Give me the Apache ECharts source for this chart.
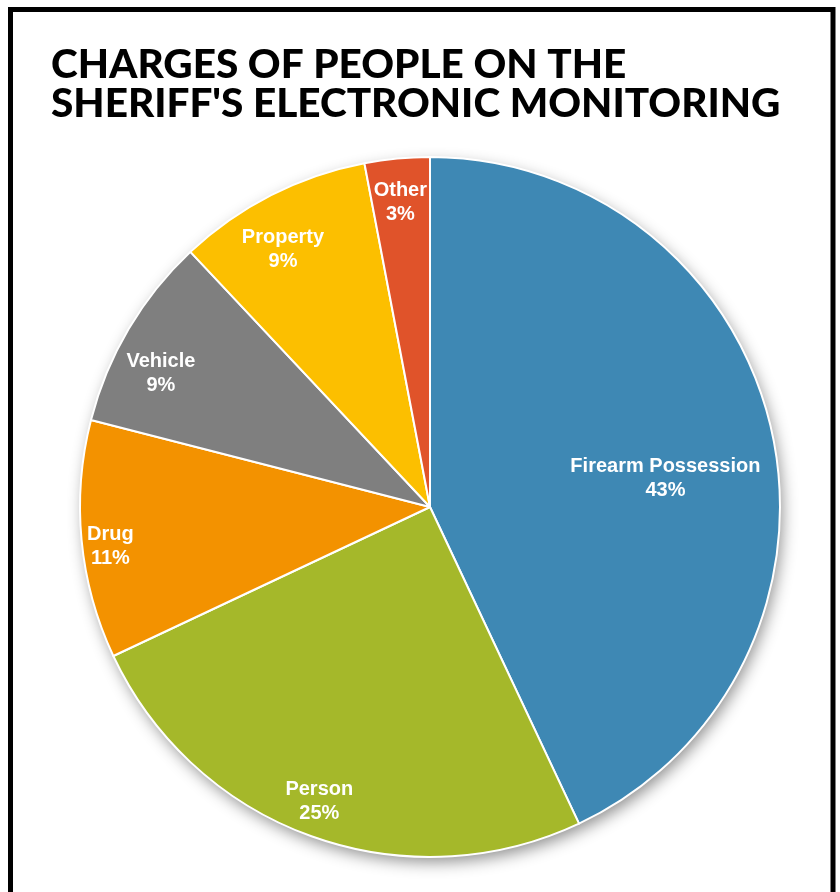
<!DOCTYPE html>
<html>
<head>
<meta charset="utf-8">
<script src="https://cdn.jsdelivr.net/npm/echarts@6/dist/echarts.min.js"></script>
<style>
  html, body { margin: 0; padding: 0; background: #ffffff; }
  #chart { width: 840px; height: 892px; }
</style>
</head>
<body>
<div id="chart"></div>
<script>
// Chart content
const titleLines = ['CHARGES OF PEOPLE ON THE', "SHERIFF'S ELECTRONIC MONITORING"];
const categories = ['Firearm Possession', 'Person', 'Drug', 'Vehicle', 'Property', 'Other'];
const shares = [43, 25, 11, 9, 9, 3];
const sliceColors = ['#3e88b4', '#a5b82a', '#f39200', '#7f7f7f', '#fcbf00', '#e0532a'];

// Small per-label offsets (px) for best-fit label placement
const labelNudge = [[-72, 40], [-4, -2], [-6, 10], [2, 27], [-4, 23], [0, 9]];

const pieCenter = [430, 507];
const pieRadius = 350;

const sliceData = categories.map((name, i) => ({
  name: name,
  value: shares[i],
  itemStyle: { color: sliceColors[i] }
}));

const chart = echarts.init(document.getElementById('chart'), null, { renderer: 'canvas' });

chart.setOption({
  backgroundColor: '#ffffff',
  animation: false,
  title: {
    text: titleLines.join('\n'),
    left: 46,
    top: 40,
    textStyle: {
      fontFamily: 'Lato',
      fontWeight: 900,
      fontSize: 40.5,
      lineHeight: 39,
      color: '#000000'
    }
  },
  graphic: [{
    type: 'rect',
    shape: { x: 10.5, y: 9.5, width: 822.5, height: 900 },
    style: { fill: 'none', stroke: '#000000', lineWidth: 5 },
    silent: true,
    z: 100
  }],
  series: [
    {
      // soft drop shadow beneath the whole pie
      type: 'pie',
      silent: true,
      center: pieCenter,
      radius: [0, pieRadius - 1],
      label: { show: false },
      labelLine: { show: false },
      itemStyle: {
        color: '#ffffff',
        shadowBlur: 16,
        shadowOffsetX: 3,
        shadowOffsetY: 6,
        shadowColor: 'rgba(0,0,0,0.45)'
      },
      data: [{ name: '', value: 1 }],
      z: 1
    },
    {
      type: 'pie',
      silent: true,
      center: pieCenter,
      radius: [0, pieRadius],
      startAngle: 90,
      clockwise: true,
      label: { show: false },
      labelLine: { show: false },
      itemStyle: { borderColor: '#ffffff', borderWidth: 2 },
      data: sliceData,
      z: 2
    },
    {
      // label ring: transparent sectors carrying the inside labels
      type: 'pie',
      silent: true,
      center: pieCenter,
      radius: [274, pieRadius],
      startAngle: 90,
      clockwise: true,
      itemStyle: { color: 'rgba(0,0,0,0)' },
      label: {
        show: true,
        position: 'inside',
        formatter: p => p.name + '\n' + p.value + '%',
        fontFamily: 'Liberation Sans',
        fontWeight: 'bold',
        fontSize: 20,
        lineHeight: 24,
        color: '#ffffff',
        align: 'center'
      },
      labelLine: { show: false },
      labelLayout: params => {
        const n = labelNudge[params.dataIndex] || [0, 0];
        return { dx: n[0], dy: n[1] };
      },
      data: categories.map((name, i) => ({ name: name, value: shares[i] })),
      z: 3
    }
  ]
});
</script>
</body>
</html>
